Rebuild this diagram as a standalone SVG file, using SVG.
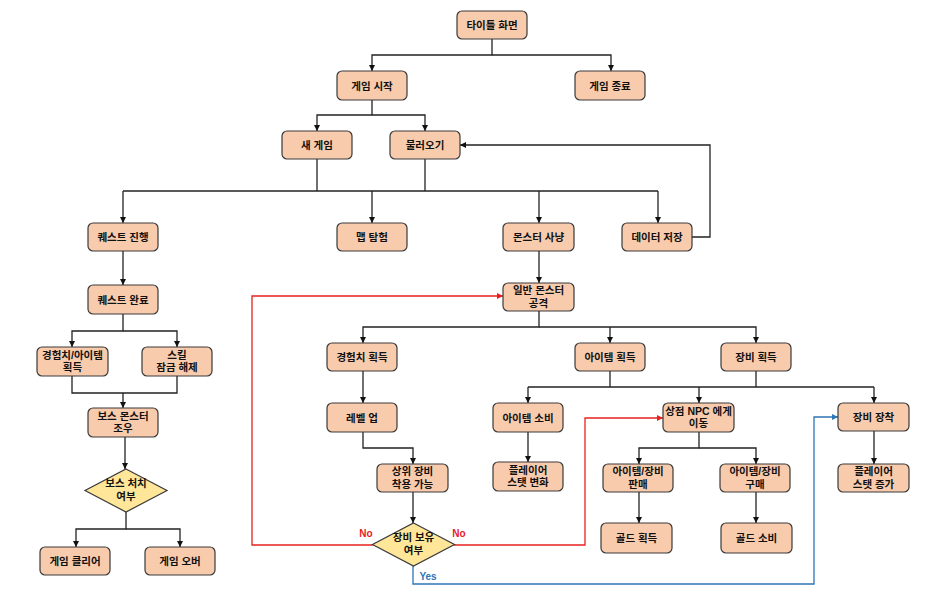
<svg xmlns="http://www.w3.org/2000/svg" width="932" height="607" viewBox="0 0 932 607">
<style>
.n rect{fill:#F8CBAD;stroke:#3a3a3a;stroke-width:1.2}
.d polygon{fill:#FFE699;stroke:#3a3a3a;stroke-width:1.2}
text{font-family:"Liberation Sans","Noto Sans CJK KR",sans-serif;font-weight:bold;font-size:10.5px;fill:#111;text-anchor:middle}
.c path{fill:none;stroke:#222;stroke-width:1.3}
.c path.r{stroke:#E8201E}
.c path.b{stroke:#2E75B6}
.lr{fill:#E8201E;font-size:10px}
.lb{fill:#2E75B6;font-size:10px}
</style>
<defs>
<marker id="a" markerUnits="userSpaceOnUse" markerWidth="8" markerHeight="8" refX="7" refY="4" orient="auto"><path d="M1,1 L7,4 L1,7 Z" fill="#111"/></marker>
<marker id="ar" markerUnits="userSpaceOnUse" markerWidth="8" markerHeight="8" refX="7" refY="4" orient="auto"><path d="M1,1 L7,4 L1,7 Z" fill="#E8201E"/></marker>
<marker id="ab" markerUnits="userSpaceOnUse" markerWidth="8" markerHeight="8" refX="7" refY="4" orient="auto"><path d="M1,1 L7,4 L1,7 Z" fill="#2E75B6"/></marker>
</defs>
<rect width="932" height="607" fill="#fff"/>
<g class="c" id="connectors">
<path d="M492,39 V55 H372 V71" marker-end="url(#a)"/>
<path d="M492,55 H611 V71" marker-end="url(#a)"/>
<path d="M372,100 V115 H317 V131" marker-end="url(#a)"/>
<path d="M372,115 H425 V131" marker-end="url(#a)"/>
<path d="M317,159 V191"/>
<path d="M425,159 V191"/>
<path d="M123,191 H658"/>
<path d="M123,191 V223" marker-end="url(#a)"/>
<path d="M372,191 V223" marker-end="url(#a)"/>
<path d="M539,191 V223" marker-end="url(#a)"/>
<path d="M658,191 V223" marker-end="url(#a)"/>
<path d="M692,237 H710 V145 H460" marker-end="url(#a)"/>
<path d="M123,251 V285" marker-end="url(#a)"/>
<path d="M123,314 V331 H72 V347" marker-end="url(#a)"/>
<path d="M123,331 H177 V347" marker-end="url(#a)"/>
<path d="M72,376 V393 H177 V376"/>
<path d="M123,393 V408" marker-end="url(#a)"/>
<path d="M125,437 V469" marker-end="url(#a)"/>
<path d="M126,512 V529 H76 V547" marker-end="url(#a)"/>
<path d="M126,529 H180 V547" marker-end="url(#a)"/>
<path d="M539,251 V283" marker-end="url(#a)"/>
<path d="M539,311 V327 H363 V343" marker-end="url(#a)"/>
<path d="M539,327 H756 V343" marker-end="url(#a)"/>
<path d="M610,327 V343" marker-end="url(#a)"/>
<path d="M363,371 V403" marker-end="url(#a)"/>
<path d="M363,432 V448 H413 V464" marker-end="url(#a)"/>
<path d="M413,492 V523" marker-end="url(#a)"/>
<path d="M610,371 V387"/>
<path d="M756,371 V387"/>
<path d="M528,387 H874"/>
<path d="M528,387 V403" marker-end="url(#a)"/>
<path d="M699,387 V403" marker-end="url(#a)"/>
<path d="M874,387 V403" marker-end="url(#a)"/>
<path d="M528,432 V462" marker-end="url(#a)"/>
<path d="M699,432 V448 H639 V464" marker-end="url(#a)"/>
<path d="M699,448 H756 V464" marker-end="url(#a)"/>
<path d="M639,492 V523" marker-end="url(#a)"/>
<path d="M756,492 V523" marker-end="url(#a)"/>
<path d="M874,431 V464" marker-end="url(#a)"/>
<path class="r" d="M373,545 H252 V296 H503" marker-end="url(#ar)"/>
<path class="r" d="M454,545 H585 V418 H663" marker-end="url(#ar)"/>
<path class="b" d="M413,566 V584 H814 V417 H838" marker-end="url(#ab)"/>
<text class="lr" x="366" y="537">No</text>
<text class="lr" x="459" y="537">No</text>
<text class="lb" x="428" y="580">Yes</text>
</g>
<g class="n" id="n_title"><rect x="457" y="11" width="70" height="28" rx="5"/><text x="492" y="29">타이틀 화면</text></g>
<g class="n" id="n_start"><rect x="337" y="71" width="70" height="29" rx="5"/><text x="372" y="89.5">게임 시작</text></g>
<g class="n" id="n_quit"><rect x="575" y="71" width="70" height="29" rx="5"/><text x="610" y="89.5">게임 종료</text></g>
<g class="n" id="n_new"><rect x="282" y="131" width="70" height="28" rx="5"/><text x="317" y="149">새 게임</text></g>
<g class="n" id="n_load"><rect x="390" y="131" width="70" height="28" rx="5"/><text x="425" y="149">불러오기</text></g>
<g class="n" id="n_quest"><rect x="88" y="223" width="70" height="28" rx="5"/><text x="123" y="241">퀘스트 진행</text></g>
<g class="n" id="n_map"><rect x="337" y="223" width="70" height="28" rx="5"/><text x="372" y="241">맵 탐험</text></g>
<g class="n" id="n_hunt"><rect x="503" y="223" width="71" height="28" rx="5"/><text x="538.5" y="241">몬스터 사냥</text></g>
<g class="n" id="n_save"><rect x="622" y="223" width="70" height="28" rx="5"/><text x="657" y="241">데이터 저장</text></g>
<g class="n" id="n_qdone"><rect x="88" y="285" width="70" height="29" rx="5"/><text x="123" y="303.5">퀘스트 완료</text></g>
<g class="n" id="n_qreward"><rect x="37" y="347" width="71" height="29" rx="5"/><text x="72.5" y="358.5">경험치/아이템<tspan x="72.5" dy="12.8">획득</tspan></text></g>
<g class="n" id="n_skill"><rect x="142" y="347" width="70" height="29" rx="5"/><text x="177" y="358.5">스킬<tspan x="177" dy="12.8">잠금 해제</tspan></text></g>
<g class="n" id="n_boss"><rect x="88" y="408" width="70" height="29" rx="5"/><text x="123" y="419.5">보스 몬스터<tspan x="123" dy="12.8">조우</tspan></text></g>
<g class="d" id="n_bosskill"><polygon points="126,469 167,490.5 126,512 85,490.5"/><text x="126" y="487">보스 처치<tspan x="126" dy="12.8">여부</tspan></text></g>
<g class="n" id="n_clear"><rect x="40" y="547" width="70" height="28" rx="5"/><text x="75" y="565">게임 클리어</text></g>
<g class="n" id="n_over"><rect x="145" y="547" width="70" height="28" rx="5"/><text x="180" y="565">게임 오버</text></g>
<g class="n" id="n_attack"><rect x="503" y="283" width="71" height="28" rx="5"/><text x="538.5" y="294">일반 몬스터<tspan x="538.5" dy="12.8">공격</tspan></text></g>
<g class="n" id="n_exp"><rect x="327" y="343" width="70" height="28" rx="5"/><text x="362" y="361">경험치 획득</text></g>
<g class="n" id="n_item"><rect x="575" y="343" width="70" height="28" rx="5"/><text x="610" y="361">아이템 획득</text></g>
<g class="n" id="n_equip"><rect x="721" y="343" width="70" height="28" rx="5"/><text x="756" y="361">장비 획득</text></g>
<g class="n" id="n_lvup"><rect x="327" y="403" width="70" height="29" rx="5"/><text x="362" y="421.5">레벨 업</text></g>
<g class="n" id="n_upper"><rect x="377" y="464" width="71" height="28" rx="5"/><text x="412.5" y="475">상위 장비<tspan x="412.5" dy="12.8">착용 가능</tspan></text></g>
<g class="d" id="n_have"><polygon points="413.5,523 454.5,544.5 413.5,566 372.5,544.5"/><text x="413.5" y="541">장비 보유<tspan x="413.5" dy="12.8">여부</tspan></text></g>
<g class="n" id="n_use"><rect x="493" y="403" width="70" height="29" rx="5"/><text x="528" y="421.5">아이템 소비</text></g>
<g class="n" id="n_stat"><rect x="493" y="462" width="70" height="29" rx="5"/><text x="528" y="473.5">플레이어<tspan x="528" dy="12.8">스탯 변화</tspan></text></g>
<g class="n" id="n_npc"><rect x="663" y="403" width="71" height="29" rx="5"/><text x="698.5" y="414.5">상점 NPC 에게<tspan x="698.5" dy="12.8">이동</tspan></text></g>
<g class="n" id="n_wear"><rect x="838" y="403" width="71" height="28" rx="5"/><text x="873.5" y="421">장비 장착</text></g>
<g class="n" id="n_sell"><rect x="603" y="464" width="70" height="28" rx="5"/><text x="638" y="475">아이템/장비<tspan x="638" dy="12.8">판매</tspan></text></g>
<g class="n" id="n_buy"><rect x="720" y="464" width="70" height="28" rx="5"/><text x="755" y="475">아이템/장비<tspan x="755" dy="12.8">구매</tspan></text></g>
<g class="n" id="n_statup"><rect x="838" y="464" width="71" height="28" rx="5"/><text x="873.5" y="475">플레이어<tspan x="873.5" dy="12.8">스탯 증가</tspan></text></g>
<g class="n" id="n_gold1"><rect x="601" y="523" width="71" height="30" rx="5"/><text x="636.5" y="542">골드 획득</text></g>
<g class="n" id="n_gold2"><rect x="721" y="523" width="71" height="30" rx="5"/><text x="756.5" y="542">골드 소비</text></g>
</svg>
